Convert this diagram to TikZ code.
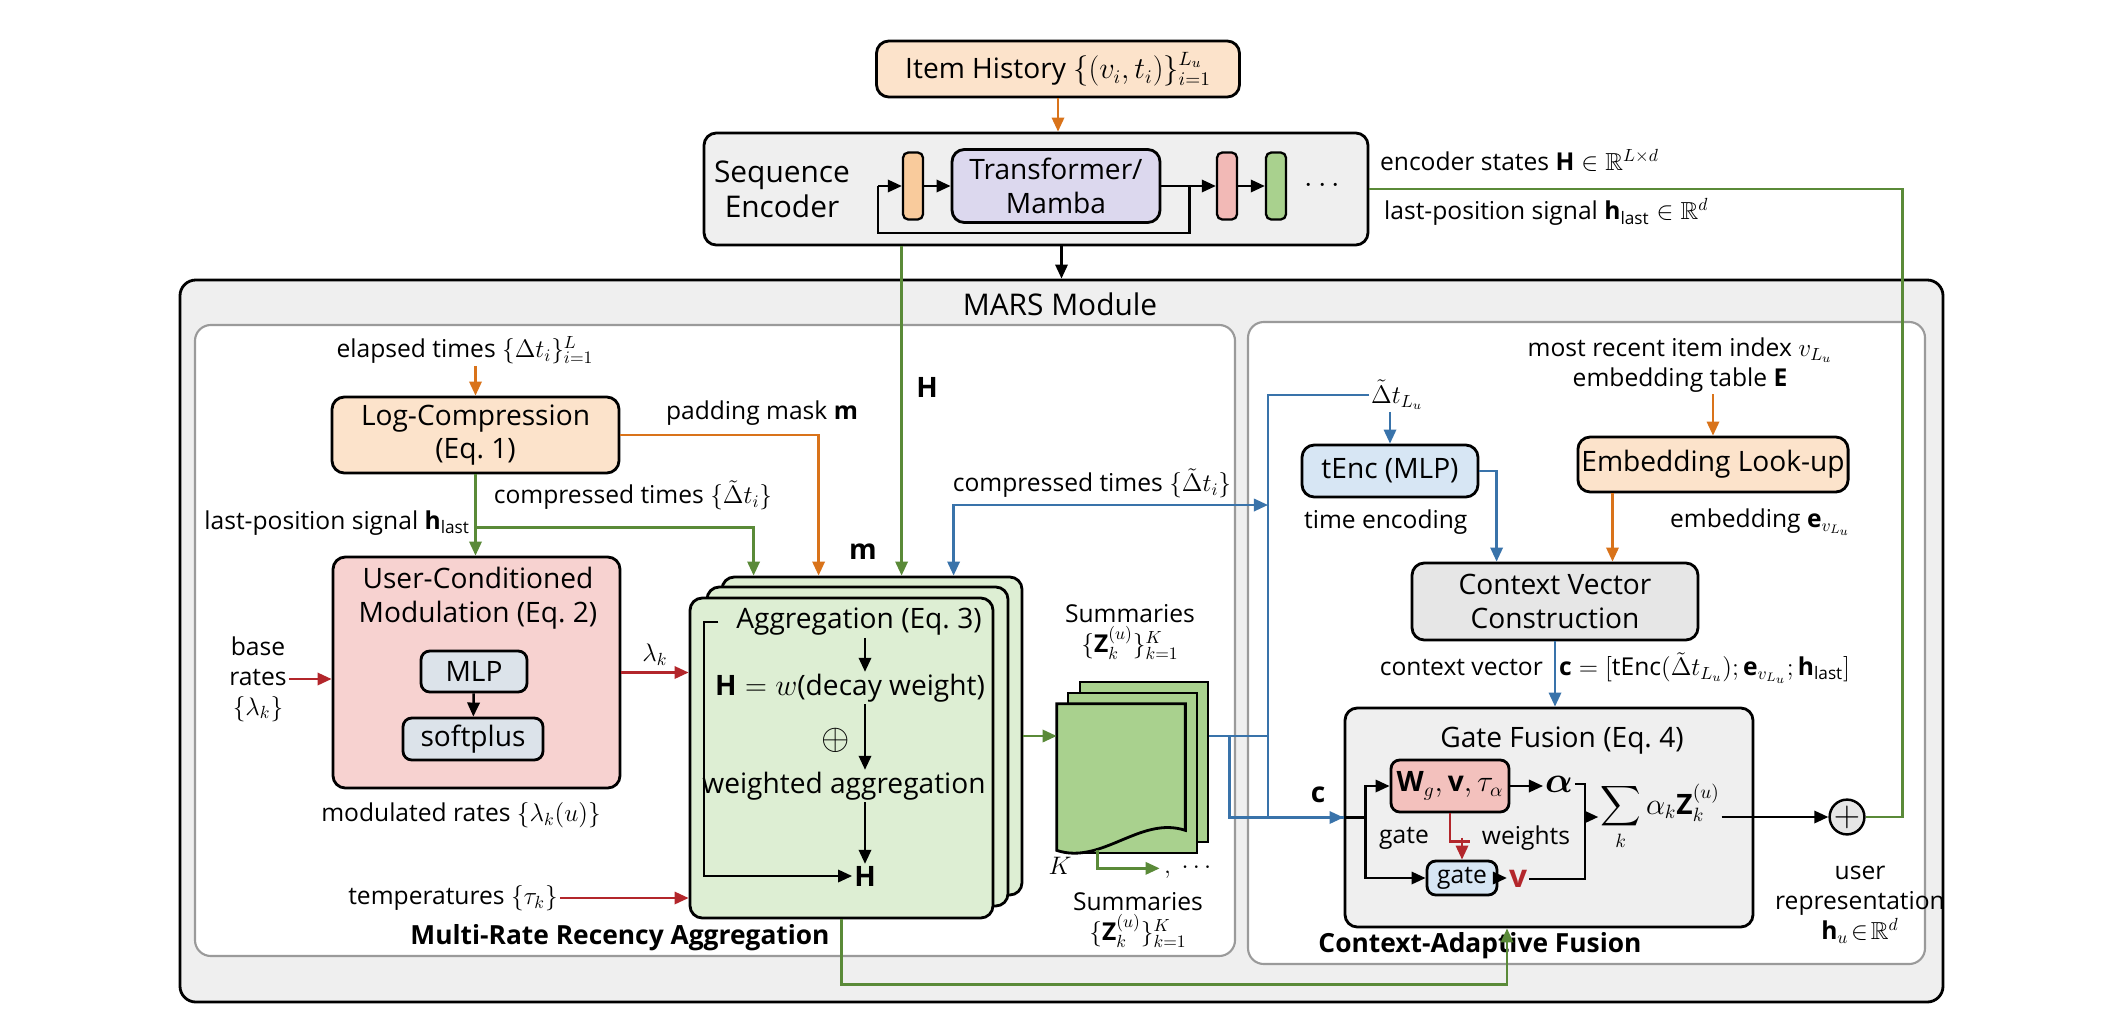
\documentclass[tikz,border=0pt]{standalone}
\usepackage{fontspec}
\setmainfont{Open Sans}
\usepackage{amsmath}
\usepackage{amssymb}
\usepackage{bm}
\usetikzlibrary{arrows.meta}
\definecolor{peach}{HTML}{FCE3CB}
\definecolor{orng}{HTML}{D9731A}
\definecolor{rosy}{HTML}{F7D2D0}
\definecolor{dred}{HTML}{B3262B}
\definecolor{lgreen}{HTML}{DDEED3}
\definecolor{mgreen}{HTML}{A9D18E}
\definecolor{dgreen}{HTML}{5A8A38}
\definecolor{lblue}{HTML}{D7E6F4}
\definecolor{dblue}{HTML}{3973AA}
\definecolor{lpurple}{HTML}{DCD8EE}
\definecolor{slate}{HTML}{DCE3EA}
\definecolor{lgray}{HTML}{EFEFEF}
\definecolor{mgray}{HTML}{E6E6E6}
\definecolor{pgray}{HTML}{9A9A9A}
\definecolor{wred}{HTML}{F3C1BD}
\definecolor{obar}{HTML}{F9CB9C}
\definecolor{rbar}{HTML}{F2B9B6}

\begin{document}
\begin{tikzpicture}[x=0.2mm,y=-0.2mm,font=\fontsize{14}{17}\selectfont,
 >={Triangle[length=8pt,width=7pt]},
 box/.style={draw,line width=1.6pt,rounded corners=7pt,align=center,inner sep=2pt},
 bar/.style={draw,line width=1.3pt,rounded corners=3pt,minimum width=4mm,minimum height=13.4mm,inner sep=0pt},
 panel/.style={draw=pgray,line width=1.2pt,rounded corners=9pt,fill=white},
 big/.style={font=\fontsize{16}{19}\selectfont},
 bold/.style={font=\fontsize{15}{18}\selectfont\bfseries},
 lbl/.style={align=center,inner sep=1pt},
 ln/.style={line width=1.4pt},
 arr/.style={ln,->},
 oarr/.style={arr,draw=orng},
 garr/.style={arr,draw=dgreen},
 gl/.style={ln,draw=dgreen},
 barr/.style={arr,draw=dblue},
 bl/.style={ln,draw=dblue},
 rarr/.style={arr,draw=dred},
 rl/.style={ln,draw=dred}]
\useasboundingbox (0,0) rectangle (2120,1010);

\node[box,big,fill=peach,minimum width=72.6mm,minimum height=11.2mm] (hist) at (1058,69) {Item History $\{(v_i,t_i)\}_{i=1}^{L_u}$};
\node[box,fill=lgray,minimum width=132.8mm,minimum height=22.4mm] (enc) at (1036,189) {};
\node[lbl,font=\fontsize{17}{20}\selectfont] (seqlbl) at (782,189) {Sequence\\Encoder};
\node[box,big,fill=lpurple,minimum width=41.6mm,minimum height=14.6mm,inner sep=0pt] (tf) at (1056,186) {Transformer/\\Mamba};
\node[bar,fill=obar] (ob) at (913,186) {};
\node[bar,fill=rbar] (rb) at (1227,186) {};
\node[bar,fill=mgreen] (gb) at (1276,186) {};
\node[big] (dots) at (1325,186) {$\cdots$};
\node[lbl,anchor=west] (encst) at (1378,160) {encoder states $\mathbf{H}\in\mathbb{R}^{L\times d}$};
\node[lbl,anchor=west] (lastsig) at (1382,212) {last-position signal $\mathbf{h}_{\mathrm{last}}\in\mathbb{R}^{d}$};

\node[box,fill=lgray,rounded corners=9pt,minimum width=352.6mm,minimum height=144.4mm] (mars) at (1061.5,641) {};
\node[lbl,font=\fontsize{17}{20}\selectfont] (marsl) at (1060,304) {MARS Module};
\node[panel,minimum width=208mm,minimum height=126.2mm] (pl) at (715,640.5) {};
\node[panel,minimum width=135.4mm,minimum height=128.4mm] (pr) at (1586.5,643) {};

\node[lbl] (elapsed) at (465,350) {elapsed times $\{\Delta t_i\}_{i=1}^{L}$};
\node[box,big,fill=peach,minimum width=57.4mm,minimum height=15.2mm] (logc) at (475.5,435) {Log-Compression\\(Eq.~1)};
\node[box,fill=rosy,minimum width=57.4mm,minimum height=46.2mm] (ucm) at (476.5,672.5) {};
\node[lbl,big] (ucmt) at (478,598) {User-Conditioned\\Modulation (Eq.~2)};
\node[box,big,fill=slate,rounded corners=5pt,minimum width=21.2mm,minimum height=8.2mm] (mlp) at (474,671.5) {MLP};
\node[box,big,fill=slate,rounded corners=5pt,minimum width=28mm,minimum height=8.4mm] (soft) at (473,739) {softplus};
\node[lbl] (base) at (258,679) {base\\rates\\$\{\lambda_k\}$};
\node[lbl] (modr) at (461,815) {modulated rates $\{\lambda_k(u)\}$};
\node[lbl] (temp) at (453,898) {temperatures $\{\tau_k\}$};
\node[lbl] (comp1) at (633,495) {compressed times $\{\tilde{\Delta}t_i\}$};
\node[lbl,anchor=east] (lastp) at (472,523) {last-position signal $\mathbf{h}_{\mathrm{last}}$};
\node[lbl] (pad) at (762,413) {padding mask $\mathbf{m}$};
\node[lbl,big] (mlab) at (863,552) {$\mathbf{m}$};
\node[lbl,big] (Hlab) at (927,387) {$\mathbf{H}$};
\node[lbl] (comp2) at (1092,483) {compressed times $\{\tilde{\Delta}t_i\}$};

\node[box,fill=lgreen,minimum width=60mm,minimum height=63.6mm] (aggb) at (872,736) {};
\node[box,fill=lgreen,minimum width=60.2mm,minimum height=63.8mm] (aggm) at (857.5,746.5) {};
\node[box,fill=lgreen,minimum width=60.6mm,minimum height=64mm] (aggf) at (841.5,758) {};
\node[lbl,big] (aggt) at (859,622) {Aggregation (Eq.~3)};
\node[lbl,big] (aggeq) at (850,688) {$\mathbf{H}=w$(decay weight)};
\node[lbl,font=\fontsize{20}{20}\selectfont] (oplus) at (836,740) {$\oplus$};
\node[lbl,big] (wagg) at (844,786) {weighted aggregation};
\node[lbl,big] (aggH) at (865,876) {$\mathbf{H}$};

\node[draw,line width=1.6pt,fill=mgreen,minimum width=25.6mm,minimum height=32mm] (sumb) at (1144,762) {};
\node[draw,line width=1.6pt,fill=mgreen,minimum width=25.8mm,minimum height=32mm] (summ) at (1132.5,773) {};
\node[minimum width=25.6mm,minimum height=29.2mm] (sumf) at (1121,777) {};
\draw[line width=1.6pt,fill=mgreen] (sumf.north west) -- (sumf.north east) -- ([yshift=4mm]sumf.south east) .. controls ([xshift=-9mm,yshift=7mm]sumf.south east) and ([xshift=9mm,yshift=-3mm]sumf.south west) .. (sumf.south west) -- cycle;
\node[lbl] (sumtop) at (1130,632) {Summaries\\$\{\mathbf{Z}_k^{(u)}\}_{k=1}^{K}$};
\node[lbl] (K) at (1060,866) {$K$};
\node[lbl,anchor=west] (dotsK) at (1162,870) {$,\ \cdots$};
\node[lbl] (sumbot) at (1138,920) {Summaries\\$\{\mathbf{Z}_k^{(u)}\}_{k=1}^{K}$};
\node[lbl,bold] (mrra) at (620,938) {Multi-Rate Recency Aggregation};

\node[lbl] (dtl) at (1397,395) {$\tilde{\Delta}t_{L_u}$};
\node[box,big,fill=lblue,minimum width=35.2mm,minimum height=10.4mm] (tenc) at (1390,471) {tEnc (MLP)};
\node[lbl,anchor=west] (tencl) at (1302,522) {time encoding};
\node[lbl] (idx) at (1680,365) {most recent item index $v_{L_u}$\\embedding table $\mathbf{E}$};
\node[box,big,fill=peach,minimum width=50.6mm,minimum height=11mm] (emb) at (1713,464.5) {Embedding Look-up};
\node[lbl,anchor=west] (embl) at (1668,522) {embedding $\mathbf{e}_{v_{L_u}}$};
\node[box,big,fill=mgray,minimum width=57.2mm,minimum height=15.4mm] (cv) at (1555,601.5) {Context Vector\\Construction};
\node[lbl,anchor=east] (cvl) at (1545,668) {context vector};
\node[lbl,anchor=west] (cvf) at (1557,668) {$\mathbf{c}=[\text{tEnc}(\tilde{\Delta}t_{L_u});\mathbf{e}_{v_{L_u}};\mathbf{h}_{\mathrm{last}}]$};
\node[box,fill=lgray,minimum width=81.6mm,minimum height=43.8mm] (gf) at (1549,817.5) {};
\node[lbl,big] (gft) at (1562,741) {Gate Fusion (Eq.~4)};
\node[lbl,big] (clab) at (1318,795) {$\mathbf{c}$};
\node[box,big,fill=wred,rounded corners=5pt,minimum width=23.6mm,minimum height=10.4mm] (wbox) at (1450,786) {$\mathbf{W}_g,\mathbf{v},\tau_\alpha$};
\node[lbl,font=\fontsize{20}{20}\selectfont] (alpha) at (1559,784) {$\bm{\alpha}$};
\node[box,fill=lblue,rounded corners=5pt,minimum width=14mm,minimum height=6.8mm] (gbx) at (1462,878) {gate};
\node[lbl,text=dred,font=\fontsize{18}{18}\selectfont] (vv) at (1518,879) {$\mathbf{v}$};
\node[lbl] (gtl) at (1404,838) {gate};
\node[lbl] (wtl) at (1526,838) {weights};
\node[lbl,big] (sig) at (1660,817) {$\displaystyle\sum_k\alpha_k\mathbf{Z}_k^{(u)}$};
\node[circle,draw,line width=1.4pt,fill=mgray,minimum size=6.4mm,inner sep=0pt,font=\fontsize{20}{20}\selectfont] (usr) at (1847,817) {$+$};
\node[lbl] (usrl) at (1860,905) {user\\representation\\$\mathbf{h}_u\!\in\!\mathbb{R}^d$};
\node[lbl,bold] (caf) at (1480,946) {Context-Adaptive Fusion};

\coordinate (inA) at ([xshift=6.6mm]aggb.north west);
\coordinate (inB) at ([xshift=19.6mm]aggb.north west);
\coordinate (inC) at ([xshift=36.2mm]aggb.north west);
\coordinate (inD) at ([xshift=46.6mm]aggb.north west);
\coordinate (bv) at (1268,505);
\coordinate (eo) at ([xshift=7.2mm]emb.south west);

\draw[oarr] (hist) -- (hist |- enc.north);
\draw[arr] (enc.south -| mars.north) -- (mars.north);
\draw[arr] (ob.west) ++(-24,0) coordinate (lpL) -- (ob.west);
\draw[arr] (ob) -- (tf); \draw[arr] (tf) -- (rb); \draw[arr] (rb) -- (gb);
\draw[ln] (tf.east) ++(28,0) -- ++(0,47) -| (lpL);
\draw[gl] (usr.east) -- ++(37,0) |- (enc.east);

\draw[oarr] (logc.north |- elapsed.south) -- (logc.north);
\draw[garr] (logc.south) -- (logc.south |- ucm.north);
\draw[garr] (logc.south) ++(0,53) -| (inA);
\draw[oarr] (logc.east) -| (inB);
\draw[garr] (enc.south -| inC) -- (inC);
\draw[bl,<->] (inD) |- (bv);
\draw[arr] (mlp) -- (soft);
\draw[rarr] (base.east) -- (base.east -| ucm.west);
\draw[rarr] (ucm.east) -- (ucm.east -| aggf.west) node[midway,above] {$\lambda_k$};
\draw[rarr] (temp.east) -- (temp.east -| aggf.west);
\draw[arr] (aggt.south -| aggH) -- (aggeq.north -| aggH);
\draw[arr] (aggeq.south -| aggH) -- (wagg.north -| aggH);
\draw[arr] (wagg.south -| aggH) -- (aggH.north);
\draw[arr] (aggt.west) ++(-16,0) -- ++(-14,0) |- (aggH.west);
\draw[garr] (aggb.east) -- (aggb.east -| sumf.west);
\draw[garr] ([xshift=8.2mm]sumf.south west) -- ++(0,18) -- ++(62,0);

\draw[bl] (dtl.west) -| (bv) -- (bv |- gf.west);
\draw[bl] (aggb.east -| sumb.east) -- (aggb.east -| bv);
\draw[bl] (aggb.east -| sumb.east) ++(20,0) |- (gf.west);
\draw[barr] (bv |- gf.west) -- (gf.west);
\draw[barr] (tenc.north |- dtl.south) -- (tenc.north);
\draw[barr] (tenc.east) -| ([xshift=17.2mm]cv.north west);
\draw[oarr] (emb.north |- idx.south) -- (emb.north);
\draw[oarr] (eo) -- (eo |- cv.north);
\draw[barr] (cv.south) -- (cv.south |- gf.north);

\draw[ln] (gf.west) -- ++(22,0);
\draw[arr] (gf.west) ++(22,0) |- (wbox.west);
\draw[arr] (gf.west) ++(22,0) |- (gbx.west);
\draw[arr] (wbox.east) -- (wbox.east -| alpha.west);
\draw[arr] (gbx.east) -- (gbx.east -| vv.west);
\draw[rl] (wbox.south) -- ++(0,28) -- ++(20,0);
\draw[rarr] (gbx.north) ++(0,-22) -- (gbx.north);
\draw[ln] (alpha.east) -- ++(10,0) coordinate (bt) |- (vv.east);
\draw[arr] (bt |- sig.west) -- (sig.west);
\draw[arr] (sig.east |- usr.west) -- (usr.west);
\draw[garr] (aggf.south) -- ++(0,65) -| ([xshift=-8.4mm]gf.south);
\end{tikzpicture}
\end{document}
